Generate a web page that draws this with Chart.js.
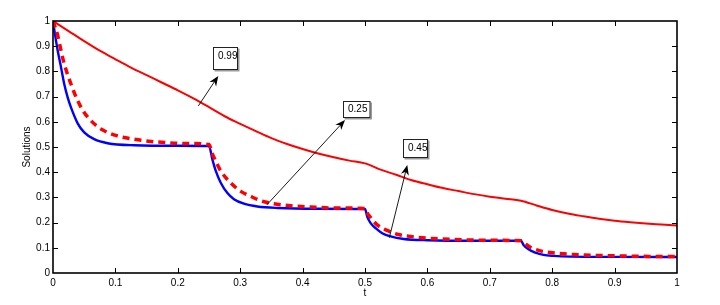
<!DOCTYPE html>
<html><head><meta charset="utf-8">
<script src="https://cdn.jsdelivr.net/npm/chart.js@4"></script>
<style>html,body{margin:0;padding:0;background:#fff}</style>
</head><body>
<canvas id="c" width="720" height="305"></canvas>
<script>
// ---- data ----
const tRed = [0,0.025,0.05,0.075,0.1,0.125,0.15,0.175,0.2,0.225,0.25,0.275,0.3,0.325,0.35,0.375,0.4,0.425,0.45,0.475,0.5,0.525,0.55,0.575,0.6,0.625,0.65,0.675,0.7,0.725,0.75,0.775,0.8,0.825,0.85,0.875,0.9,0.925,0.95,0.975,1];
const redSolid = [1.0,0.96,0.92,0.882,0.848,0.815,0.785,0.755,0.725,0.693,0.658,0.622,0.592,0.563,0.535,0.512,0.492,0.474,0.459,0.446,0.435,0.41,0.39,0.368,0.352,0.337,0.325,0.313,0.303,0.295,0.287,0.268,0.25,0.236,0.225,0.215,0.207,0.201,0.196,0.192,0.188];

const tBlue = [0,0.003,0.0075,0.0128,0.018,0.0235,0.0288,0.0395,0.05,0.066,0.0875,0.13,0.2,0.25,0.2555,0.261,0.269,0.2795,0.29,0.306,0.3275,0.36,0.42,0.5,0.5035,0.509,0.517,0.5275,0.541,0.562,0.6,0.68,0.75,0.754,0.762,0.773,0.786,0.802,0.829,0.9,1];
const blueSolid = [1.0,0.95,0.883,0.817,0.75,0.697,0.657,0.594,0.558,0.531,0.515,0.507,0.505,0.504,0.45,0.404,0.357,0.317,0.293,0.275,0.264,0.258,0.255,0.254,0.224,0.198,0.178,0.158,0.145,0.135,0.130,0.128,0.128,0.1115,0.094,0.081,0.072,0.068,0.065,0.064,0.0635];

const tDash = [0,0.0075,0.0128,0.018,0.0288,0.0395,0.05,0.061,0.077,0.1035,0.13,0.157,0.183,0.21,0.25,0.255,0.261,0.269,0.285,0.301,0.317,0.333,0.354,0.381,0.413,0.45,0.5,0.503,0.509,0.5195,0.5355,0.5515,0.573,0.6,0.642,0.6955,0.75,0.754,0.765,0.781,0.797,0.818,0.845,0.882,0.935,1];
const redDashed = [1.0,0.943,0.883,0.83,0.75,0.684,0.637,0.604,0.571,0.544,0.531,0.522,0.517,0.514,0.51,0.475,0.443,0.404,0.357,0.324,0.304,0.287,0.275,0.267,0.262,0.258,0.256,0.24,0.22,0.191,0.169,0.154,0.145,0.138,0.133,0.130,0.128,0.121,0.102,0.088,0.081,0.076,0.072,0.069,0.0665,0.065];

const xTickStep = 0.1;
const yTickStep = 0.1;

// annotation labels (text) and their anchor points in data coordinates
const noteText = ['0.99','0.25','0.45'];
const noteBox  = [[0.2564,0.897],[0.4652,0.6825],[0.5604,0.532]];   // box top-left (t, value)
const noteTail = [[0.2329,0.663],[0.3425,0.270],[0.539,0.140]];
const noteHead = [[0.2649,0.782],[0.468,0.607],[0.5678,0.4286]];
// --------------------------------------

const pts = (ts, vs) => ts.map((t,i)=>({x:t,y:vs[i]}));
const FONT = 'Liberation Sans, Arial, Helvetica, sans-serif';
const fmt = v => String(Math.round(v*10)/10);

const boxStyle = [{w:25,h:23,ty:9},{w:27.5,h:17,ty:8.5},{w:25,h:19,ty:9.5}];

const framePlugin = {
  id:'frame',
  afterDatasetsDraw(chart){
    const {ctx, chartArea:a, scales:{x,y}} = chart;
    ctx.save();
    ctx.strokeStyle='#000';
    ctx.lineWidth=1;
    const L=5;
    ctx.beginPath();
    for(let v=xTickStep; v<1-1e-9; v+=xTickStep){
      const px=Math.round(x.getPixelForValue(v))+0.5;
      ctx.moveTo(px,a.bottom); ctx.lineTo(px,a.bottom-L);
      ctx.moveTo(px,a.top); ctx.lineTo(px,a.top+L);
    }
    for(let v=yTickStep; v<1-1e-9; v+=yTickStep){
      const py=Math.round(y.getPixelForValue(v))+0.5;
      ctx.moveTo(a.left,py); ctx.lineTo(a.left+L,py);
      ctx.moveTo(a.right,py); ctx.lineTo(a.right-L,py);
    }
    ctx.stroke();
    ctx.lineWidth=1.6;
    ctx.strokeRect(a.left,a.top,a.right-a.left,a.bottom-a.top);

    // annotations
    ctx.font = '10px '+FONT;
    ctx.textBaseline='middle';
    ctx.textAlign='left';
    for(let i=0;i<noteText.length;i++){
      const tx=x.getPixelForValue(noteTail[i][0]), ty=y.getPixelForValue(noteTail[i][1]);
      const hx=x.getPixelForValue(noteHead[i][0]), hy=y.getPixelForValue(noteHead[i][1]);
      const ang=Math.atan2(hy-ty,hx-tx);
      const len=10, hw=4, notch=7;
      const bx=hx-notch*Math.cos(ang), by=hy-notch*Math.sin(ang);
      ctx.strokeStyle='#000'; ctx.lineWidth=0.9;
      ctx.beginPath(); ctx.moveTo(tx,ty); ctx.lineTo(bx,by); ctx.stroke();
      ctx.fillStyle='#000';
      ctx.beginPath();
      ctx.moveTo(hx,hy);
      ctx.lineTo(hx-len*Math.cos(ang)+hw*Math.sin(ang), hy-len*Math.sin(ang)-hw*Math.cos(ang));
      ctx.lineTo(bx,by);
      ctx.lineTo(hx-len*Math.cos(ang)-hw*Math.sin(ang), hy-len*Math.sin(ang)+hw*Math.cos(ang));
      ctx.closePath(); ctx.fill();

      const s=boxStyle[i];
      const px=Math.round(x.getPixelForValue(noteBox[i][0])), py=Math.round(y.getPixelForValue(noteBox[i][1]));
      ctx.fillStyle='#9a9a9a';
      ctx.fillRect(px+1.5,py+1.5,s.w,s.h);
      ctx.fillStyle='#fff';
      ctx.fillRect(px,py,s.w,s.h);
      ctx.strokeStyle='#222'; ctx.lineWidth=1;
      ctx.strokeRect(px+0.5,py+0.5,s.w-1,s.h-1);
      ctx.fillStyle='#000';
      ctx.fillText(noteText[i], px+5, py+s.ty);
    }
    ctx.restore();
  }
};

new Chart(document.getElementById('c'), {
  type:'line',
  data:{datasets:[
    {data:pts(tDash,redDashed), borderColor:'#ff0000', borderWidth:3.5, borderDash:[7,5], pointRadius:0, cubicInterpolationMode:'monotone', fill:false, order:0},
    {data:pts(tBlue,blueSolid), borderColor:'#0000ff', borderWidth:2.4, pointRadius:0, cubicInterpolationMode:'monotone', fill:false, order:1},
    {data:pts(tRed,redSolid), borderColor:'#ff0000', borderWidth:2, pointRadius:0, cubicInterpolationMode:'monotone', fill:false, order:2}
  ]},
  options:{
    responsive:false, animation:false, devicePixelRatio:1, events:[],
    layout:{padding:{left:0,top:21,right:43,bottom:0}},
    plugins:{legend:{display:false}, tooltip:{enabled:false}},
    scales:{
      x:{type:'linear', min:0, max:1,
        grid:{display:false, drawTicks:false}, border:{display:false},
        ticks:{stepSize:xTickStep, callback:fmt, color:'#000', font:{family:FONT,size:10}, padding:4, maxRotation:0, autoSkip:false},
        title:{display:true, text:'t', color:'#000', font:{family:FONT,size:10}, padding:{top:0,bottom:6}},
        afterFit(s){ s.height=32; }
      },
      y:{type:'linear', min:0, max:1,
        grid:{display:false, drawTicks:false}, border:{display:false},
        ticks:{stepSize:yTickStep, callback:fmt, color:'#000', font:{family:FONT,size:10}, padding:3, autoSkip:false},
        title:{display:true, text:'Solutions', color:'#000', font:{family:FONT,size:10}, padding:{top:21,bottom:0}},
        afterFit(s){ s.width=53; }
      }
    }
  },
  plugins:[framePlugin]
});
</script>
</body></html>
